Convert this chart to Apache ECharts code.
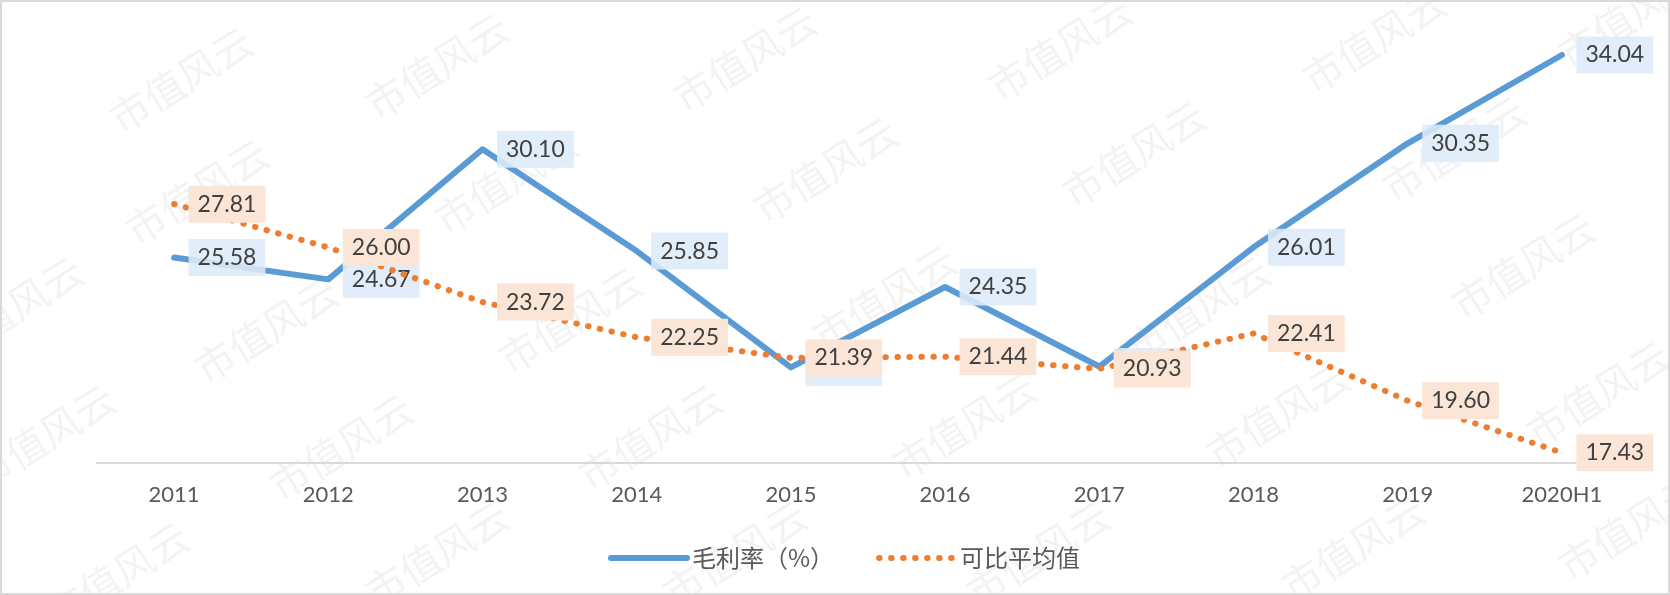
<!DOCTYPE html>
<html>
<head>
<meta charset="utf-8">
<script src="https://cdn.jsdelivr.net/npm/echarts@6/dist/echarts.min.js"></script>
<style>
html,body{margin:0;padding:0;background:#fff;}
#chart{width:1670px;height:595px;}
</style>
</head>
<body>
<div id="chart"></div>
<script>
var categories = ['2011','2012','2013','2014','2015','2016','2017','2018','2019','2020H1'];
var grossMargin = [25.58, 24.67, 30.10, 25.85, 20.99, 24.35, 21.03, 26.01, 30.35, 34.04];
var peerAverage = [27.81, 26.00, 23.72, 22.25, 21.39, 21.44, 20.93, 22.41, 19.60, 17.43];
var seriesNames = ['毛利率（%）', '可比平均值'];
var watermarkText = '市值风云';

var wmPos = [
  [181,80],[437,66],[745,59],[1060,48],[1374,40],[1630,15],
  [197,192],[506,181],[825,170],[1134,154],[1454,149],
  [11,309],[266,330],[570,320],[884,298],[1198,309],[1523,266],
  [43,437],[341,447],[650,437],[964,426],[1278,415],[1598,394],
  [117,575],[437,554],[735,554],[1038,554],[1353,548],[1630,527]
];
var graphics = wmPos.map(function(p){
  return {
    type:'text', x:p[0], y:p[1], rotation: 32*Math.PI/180, silent:true, z:0,
    style:{text:watermarkText, fill:'#f3f3f3', font:'40px "Noto Sans CJK SC"', textAlign:'center', textVerticalAlign:'middle'}
  };
});
graphics.push({type:'rect', shape:{x:1,y:1,width:1668,height:593}, style:{fill:'none', stroke:'#d9d9d9', lineWidth:2}, silent:true, z:100});

function labelCfg(bg){
  return {
    show:true, position:'right', distance:14,
    backgroundColor:bg, padding:[7,9,7,9],
    fontSize:23, lineHeight:23, fontFamily:'Lato', color:'#404040',
    formatter:function(p){ return p.value.toFixed(2); }
  };
}

var chart = echarts.init(document.getElementById('chart'));
chart.setOption({
  animation:false,
  backgroundColor:'#fff',
  graphic: graphics,
  grid:{left:97, right:31, top:32, bottom:132},
  legend:{
    left:603, top:541, itemWidth:76, itemHeight:24, itemGap:42,
    itemStyle:{opacity:0},
    lineStyle:{width:6, cap:'round'},
    textStyle:{fontSize:24, fontFamily:'"Noto Sans CJK SC"', color:'#595959', lineHeight:24},
    data: seriesNames
  },
  xAxis:{
    type:'category', data:categories, boundaryGap:true,
    axisLine:{lineStyle:{color:'#d9d9d9', width:2}},
    axisTick:{show:false},
    axisLabel:{fontSize:22, fontFamily:'Lato', color:'#595959', margin:21}
  },
  yAxis:{type:'value', min:17, max:35, show:false, splitLine:{show:false}},
  series:[
    {
      name:seriesNames[0], type:'line', data:grossMargin, symbol:'circle', symbolSize:1, z:2,
      lineStyle:{color:'#5B9BD5', width:6, cap:'round', join:'round'},
      itemStyle:{color:'#5B9BD5'},
      label: labelCfg('rgba(221,235,247,0.88)')
    },
    {
      name:seriesNames[1], type:'line', data:peerAverage, symbol:'circle', symbolSize:1, z:3,
      lineStyle:{color:'#ED7D31', width:6, type:[0.5,11.5], cap:'round', join:'round'},
      itemStyle:{color:'#ED7D31'},
      label: labelCfg('#FBE5D6')
    }
  ]
});
</script>
</body>
</html>
